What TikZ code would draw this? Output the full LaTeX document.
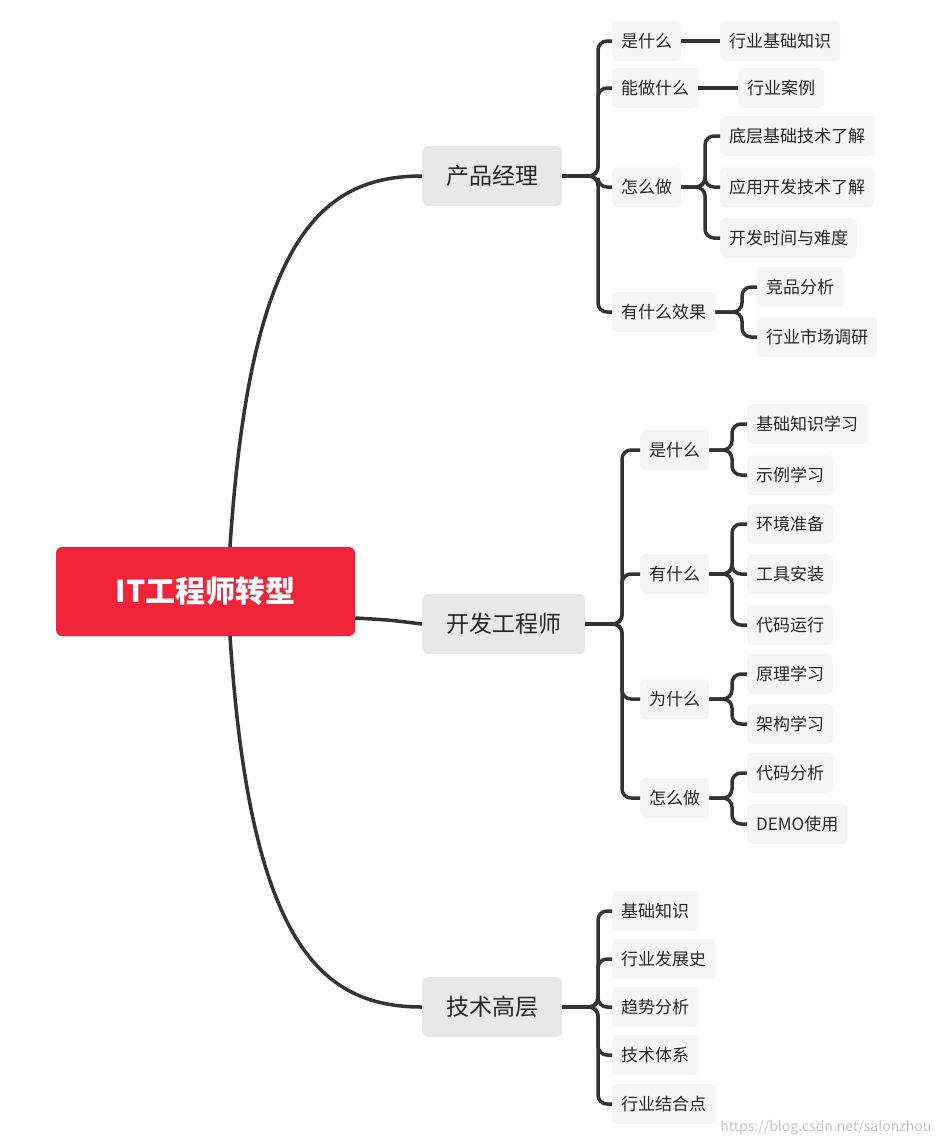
\documentclass[tikz,border=0pt]{standalone}
\usepackage{fontspec}
\setmainfont{Noto Sans CJK SC}
\begin{document}
\begin{tikzpicture}[x=1pt,y=-1pt,
  rootbox/.style={fill=rootred,text=white,font=\fontsize{30}{34}\selectfont\bfseries,rounded corners=6pt,minimum width=299pt,minimum height=89pt},
  mainbox/.style={fill=gray!18,text=black!85,font=\fontsize{23}{27}\selectfont,rounded corners=6pt,minimum height=60pt,inner xsep=24pt,anchor=west},
  subbox/.style={fill=gray!8,text=black!85,font=\fontsize{17}{20}\selectfont,rounded corners=5pt,minimum height=40pt,inner xsep=9pt,anchor=west},
  conn/.style={draw=black!80,line width=3.5pt,rounded corners=9pt}]
\definecolor{rootred}{HTML}{F02338}
\useasboundingbox (0,0) rectangle (942,1146);
\fill[white] (0,0) rectangle (942,1146);
\node[rootbox] (root) at (205.5,591.5) {IT工程师转型};
\node[mainbox] (pm) at (422,176) {产品经理};
\node[mainbox] (de) at (422,624) {开发工程师};
\node[mainbox] (th) at (422,1007) {技术高层};
\coordinate (rt) at (230,547);
\coordinate (rb) at (230,636);
\draw[conn] (rt) .. controls (250,240) and (320,176) .. (pm.west);
\draw[conn] (rb) .. controls (250,943) and (320,1007) .. (th.west);
\draw[conn] (root.east |- 0,618) .. controls (390,620) .. (de.west);
% PM
\node[subbox] (a1) at (612,41) {是什么};
\node[subbox] (a2) at (612,88) {能做什么};
\node[subbox] (a3) at (612,187) {怎么做};
\node[subbox] (a4) at (612,312) {有什么效果};
\foreach \c in {a1,a2,a3,a4} \draw[conn] (pm.east) -- (598,176) |- (\c.west);
\node[subbox] (b1) at (720,41) {行业基础知识};
\node[subbox] (b2) at (738,88) {行业案例};
\node[subbox] (b3) at (720,136) {底层基础技术了解};
\node[subbox] (b4) at (720,187) {应用开发技术了解};
\node[subbox] (b5) at (720,238) {开发时间与难度};
\node[subbox] (b6) at (757,287) {竞品分析};
\node[subbox] (b7) at (757,337) {行业市场调研};
\draw[conn] (a1.east) -- (b1.west);
\draw[conn] (a2.east) -- (b2.west);
\foreach \c in {b3,b4,b5} \draw[conn] (a3.east) -- (705,187) |- (\c.west);
\foreach \c in {b6,b7} \draw[conn] (a4.east) -- (742,312) |- (\c.west);
% DE
\node[subbox] (c1) at (640,450) {是什么};
\node[subbox] (c2) at (640,574) {有什么};
\node[subbox] (c3) at (640,699) {为什么};
\node[subbox] (c4) at (640,798) {怎么做};
\foreach \c in {c1,c2,c3,c4} \draw[conn] (de.east) -- (622,624) |- (\c.west);
\node[subbox] (d1) at (747,424) {基础知识学习};
\node[subbox] (d2) at (747,475) {示例学习};
\node[subbox] (d3) at (747,524) {环境准备};
\node[subbox] (d4) at (747,574) {工具安装};
\node[subbox] (d5) at (747,625) {代码运行};
\node[subbox] (d6) at (747,674) {原理学习};
\node[subbox] (d7) at (747,724) {架构学习};
\node[subbox] (d8) at (747,773) {代码分析};
\node[subbox] (d9) at (747,824) {DEMO使用};
\foreach \c in {d1,d2} \draw[conn] (c1.east) -- (732,450) |- (\c.west);
\foreach \c in {d3,d4,d5} \draw[conn] (c2.east) -- (732,574) |- (\c.west);
\foreach \c in {d6,d7} \draw[conn] (c3.east) -- (732,699) |- (\c.west);
\foreach \c in {d8,d9} \draw[conn] (c4.east) -- (732,798) |- (\c.west);
% TH
\node[subbox] (e1) at (612,911) {基础知识};
\node[subbox] (e2) at (612,959) {行业发展史};
\node[subbox] (e3) at (612,1007) {趋势分析};
\node[subbox] (e4) at (612,1055) {技术体系};
\node[subbox] (e5) at (612,1104) {行业结合点};
\foreach \c in {e1,e2,e3,e4,e5} \draw[conn] (th.east) -- (598,1007) |- (\c.west);
\node[anchor=east,text=gray!45,font=\fontsize{14}{16}\selectfont] (wm) at (935,1128) {https://blog.csdn.net/salonzhou};
\end{tikzpicture}
\end{document}
